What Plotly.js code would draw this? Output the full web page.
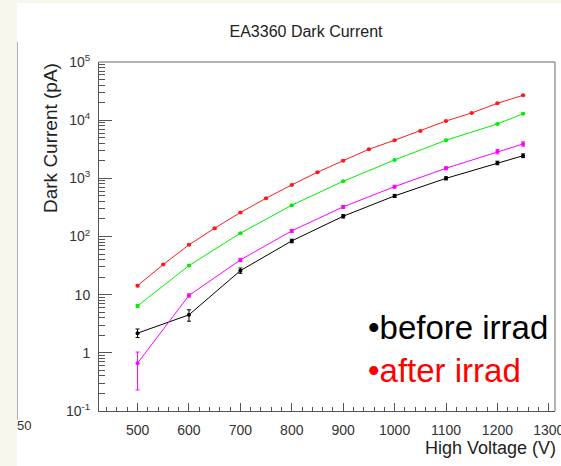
<!DOCTYPE html>
<html>
<head>
<meta charset="utf-8">
<script src="https://cdn.plot.ly/plotly-3.0.1.min.js"></script>
<style>
  html, body { margin: 0; padding: 0; }
  body { width: 561px; height: 466px; background: #f8f6ec; position: relative; overflow: hidden; }
  #white { position: absolute; left: 17px; top: 3px; width: 544px; height: 463px; background: #ffffff; }
  #vline { position: absolute; left: 17px; top: 42px; width: 1px; height: 378px; background: #b0b0b0; }
  #chart { position: absolute; left: 0; top: 0; width: 561px; height: 466px; }
</style>
</head>
<body>
<div id="white"></div>
<div id="vline"></div>
<div id="chart"></div>
<script>
// ---- data ----
const voltsRed = [500, 550, 600, 650, 700, 750, 800, 850, 900, 950, 1000, 1050, 1100, 1150, 1200, 1250];
const redCurrent = [14.3, 33, 72, 139, 258, 455, 771, 1274, 2014, 3160, 4520, 6520, 9680, 13300, 19500, 26800];
const redErr = [0.6, 1, 2, 4, 7, 12, 20, 30, 50, 80, 110, 160, 240, 330, 480, 650];

const volts = [500, 600, 700, 800, 900, 1000, 1100, 1200, 1250];
const greenCurrent = [6.4, 31.6, 114, 345, 891, 2070, 4520, 8610, 12900];
const greenErr = [0.3, 1, 3, 9, 22, 50, 110, 210, 320];

const magentaCurrent = [0.665, 9.7, 39.6, 125, 323, 720, 1490, 2880, 3900];
const magentaErrPlus = [0.365, 0.6, 2.5, 7, 18, 40, 90, 240, 330];
const magentaErrMinus = [0.435, 0.6, 2.5, 7, 18, 40, 90, 240, 330];

const blackCurrent = [2.18, 4.5, 25.9, 84, 223, 499, 1000, 1840, 2450];
const blackErrPlus = [0.39, 1.0, 2.8, 6, 15, 30, 60, 130, 180];
const blackErrMinus = [0.35, 1.0, 2.6, 6, 15, 30, 60, 130, 180];

const yTickVals = [0.1, 1, 10, 100, 1000, 10000, 100000];
const yTickText = ['10<sup>-1</sup>', '1', '10', '10<sup>2</sup>', '10<sup>3</sup>', '10<sup>4</sup>', '10<sup>5</sup>'];
const xTickVals = [500, 600, 700, 800, 900, 1000, 1100, 1200, 1300];

const titleText = 'EA3360 Dark Current';
const xTitle = 'High Voltage (V)';
const yTitle = 'Dark Current (pA)';
const legendBefore = '•before irrad';
const legendAfter = '•after irrad';

// ---- traces ----
function series(x, y, color, ePlus, eMinus) {
  return {
    x: x, y: y, type: 'scatter', mode: 'lines+markers',
    line: { color: color, width: 1 },
    marker: { color: color, size: 4, symbol: 'circle' },
    error_y: {
      type: 'data', symmetric: false, array: ePlus, arrayminus: eMinus,
      color: color, thickness: 1, width: 2
    },
    showlegend: false, hoverinfo: 'x+y'
  };
}

const data = [
  series(volts, blackCurrent, '#000000', blackErrPlus, blackErrMinus),
  series(volts, magentaCurrent, '#ff00ff', magentaErrPlus, magentaErrMinus),
  series(volts, greenCurrent, '#00ee00', greenErr, greenErr),
  series(voltsRed, redCurrent, '#ff1a1a', redErr, redErr)
];

const font = 'Liberation Sans, Arial, Helvetica, sans-serif';

const layout = {
  width: 561, height: 466,
  margin: { l: 99, r: 6, t: 62, b: 55 },
  paper_bgcolor: 'rgba(0,0,0,0)',
  plot_bgcolor: '#ffffff',
  font: { family: font, color: '#333333' },
  title: {
    text: titleText, x: 306 / 561, xanchor: 'center',
    y: 1 - 31 / 466, yanchor: 'middle',
    font: { family: font, size: 16, color: '#222222' }
  },
  xaxis: {
    type: 'linear', range: [425, 1312],
    tickmode: 'array', tickvals: xTickVals,
    ticks: 'inside', ticklen: 8, tickwidth: 1, tickcolor: '#555555',
    minor: { ticks: 'inside', dtick: 20, tick0: 0, ticklen: 4, tickwidth: 1, tickcolor: '#555555', showgrid: false },
    showline: true, linecolor: '#555555', linewidth: 1, mirror: false,
    showgrid: false, zeroline: false,
    tickfont: { family: font, size: 14, color: '#333333' },
    ticklabeloverflow: 'allow',
    ticklabelstandoff: 6
  },
  yaxis: {
    type: 'log', range: [-1, 5],
    tickmode: 'array', tickvals: yTickVals, ticktext: yTickText,
    ticks: 'inside', ticklen: 13, tickwidth: 1, tickcolor: '#555555',
    minor: { ticks: 'inside', dtick: 'D1', ticklen: 6, tickwidth: 1, tickcolor: '#555555', showgrid: false },
    showline: true, linecolor: '#555555', linewidth: 1, mirror: false,
    showgrid: false, zeroline: false,
    tickfont: { family: font, size: 14, color: '#333333' },
    ticklabelstandoff: 5
  },
  shapes: [
    { type: 'line', xref: 'paper', yref: 'paper', x0: 0, x1: 1, y0: 1, y1: 1, line: { color: '#9a9a9a', width: 1.5 } },
    { type: 'line', xref: 'paper', yref: 'paper', x0: 1, x1: 1, y0: 0, y1: 1, line: { color: '#9a9a9a', width: 1.5 } }
  ],
  annotations: [
    { text: yTitle, xref: 'paper', yref: 'paper', x: (50 - 99) / 456, y: (411 - 61) / 349,
      xanchor: 'center', yanchor: 'top', textangle: -90, showarrow: false,
      font: { family: font, size: 19, color: '#222222' } },
    { text: xTitle, xref: 'paper', yref: 'paper', x: (558 - 99) / 456, y: (411 - 448) / 349,
      xanchor: 'right', yanchor: 'middle', showarrow: false,
      font: { family: font, size: 18, color: '#222222' } },
    { text: legendBefore, xref: 'paper', yref: 'paper', x: (366 - 99) / 456, y: (411 - 327) / 349,
      xanchor: 'left', yanchor: 'middle', showarrow: false,
      font: { family: font, size: 33, color: '#000000' } },
    { text: legendAfter, xref: 'paper', yref: 'paper', x: (366 - 99) / 456, y: (411 - 370) / 349,
      xanchor: 'left', yanchor: 'middle', showarrow: false,
      font: { family: font, size: 33, color: '#ff0000' } },
    { text: '50', xref: 'paper', yref: 'paper', x: (33 - 99) / 456, y: (411 - 426) / 349,
      xanchor: 'right', yanchor: 'middle', showarrow: false,
      font: { family: font, size: 13, color: '#333333' } }
  ]
};

Plotly.newPlot('chart', data, layout, { displayModeBar: false, staticPlot: true });
</script>
</body>
</html>
